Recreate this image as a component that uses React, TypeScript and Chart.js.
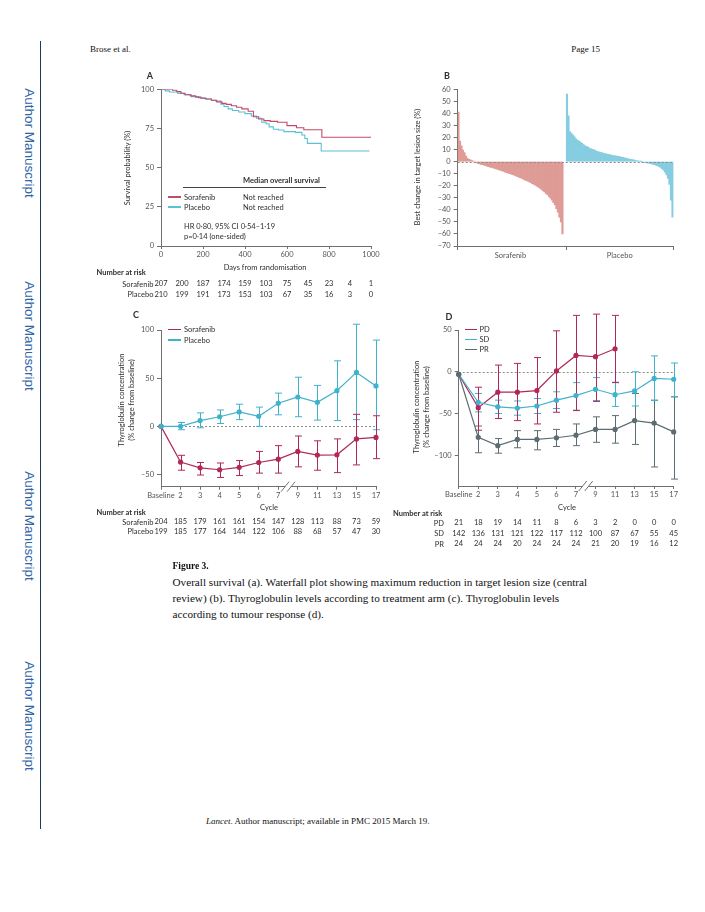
import React, { useEffect, useRef } from 'react';
import { Chart, registerables } from 'chart.js';
Chart.register(...registerables);

// ---------------- DATA ----------------
// Panel A: Kaplan-Meier overall survival
const kmSorafenibDays = [0, 55, 75, 95, 115, 140, 165, 190, 215, 240, 265, 290, 310, 335, 360, 385, 415, 440, 465, 490, 520, 555, 600, 645, 680, 766, 1005];
const kmSorafenibSurv = [100, 99.4, 98.5, 97.5, 96.5, 95.8, 95.0, 94.3, 93.8, 93.0, 92.0, 91.0, 90.4, 89.5, 88.5, 87.5, 86.0, 82.5, 81.0, 80.0, 79.5, 79.0, 76.8, 75.5, 74.2, 69.4, 69.4];
const kmPlaceboDays = [0, 20, 40, 80, 110, 145, 180, 210, 240, 260, 285, 300, 320, 340, 370, 400, 430, 455, 480, 500, 515, 535, 560, 585, 640, 671, 685, 697, 763, 993];
const kmPlaceboSurv = [100, 99, 98.3, 97.4, 96.5, 95.3, 94.5, 93.8, 93, 92.5, 90.5, 89, 87.5, 86.5, 85.5, 84.5, 83, 81.5, 79, 78, 76, 74.5, 74, 73, 72.5, 70.8, 68.6, 65.5, 60.6, 60.6];
const kmXTicks = [0, 200, 400, 600, 800, 1000];
const kmYTicks = [0, 25, 50, 75, 100];
const riskDaysA = [0, 100, 200, 300, 400, 500, 600, 700, 800, 900, 1000];
const riskSorafenibA = [207, 200, 187, 174, 159, 103, 75, 45, 23, 4, 1];
const riskPlaceboA = [210, 199, 191, 173, 153, 103, 67, 35, 16, 3, 0];

// Panel B: waterfall, best change in target lesion size (%)
const waterfallSorafenib = [41, 17, 13, 9.5, 7.5, 4.5, 2.8, 2, 1.4, 0.8, 0.3, -0.3, -1, -1.5, -1.9, -2.3, -2.6, -3, -3.3, -3.7,
  -4.1, -4.5, -4.8, -5.2, -5.6, -6, -6.4, -6.9, -7.3, -7.7, -8.2, -8.7, -9.2, -9.6, -10, -10.4, -10.8, -11.3, -11.8, -12.3,
  -12.8, -13.4, -14, -14.6, -15.2, -15.7, -16.3, -16.9, -17.5, -18.2, -18.9, -19.6, -20.3, -21.1, -22, -23, -24, -25.2, -26.3, -27.5,
  -28.8, -30.3, -32, -34, -36, -39, -42, -46, -50, -60];
const waterfallPlacebo = [56, 38, 25, 23.5, 22, 20.5, 19, 17.8, 17, 16.2, 15.2, 14.2, 13.2, 12.6, 12, 11.3, 10.7, 10.2, 9.7, 9.1,
  8.6, 8.1, 7.7, 7.4, 7, 6.7, 6.4, 6.1, 5.8, 5.6, 5.3, 5.1, 4.8, 4.6, 4.3, 4.1, 3.8, 3.5, 3.2, 2.9,
  2.6, 2.3, 2, 1.8, 1.5, 1.2, 0.9, 0.6, 0.3, 0.1, -0.2, -0.4, -0.7, -1, -1.3, -1.5, -1.9, -2.2, -2.5, -3,
  -3.5, -4, -4.8, -5.8, -7, -8.8, -11, -14, -19, -32, -46];
const waterfallYTicks = [-70, -60, -50, -40, -30, -20, -10, 0, 10, 20, 30, 40, 50, 60];
const waterfallGroups = ['Sorafenib', 'Placebo'];

// Panels C & D: thyroglobulin by cycle
const cycles = ['Baseline', '2', '3', '4', '5', '6', '7', '9', '11', '13', '15', '17'];
const tgSorafenib = [0, -37, -43, -45, -42.5, -37.5, -34, -26, -29.8, -29.5, -13, -11.5];
const tgSorafenibLo = [null, -45.5, -50.5, -53, -51, -48.5, -48.5, -42, -45.5, -48, -40, -33.5];
const tgSorafenibHi = [null, -30, -37.5, -38, -35.5, -26, -20, -10, -15, -13, 12.5, 11];
const tgPlacebo = [0, 0, 6, 10, 15, 10.5, 24, 30.5, 25, 37, 56, 42];
const tgPlaceboLo = [null, -3.5, -1.5, 3, 7, 0, 12, 10, 6.5, 6, 7, -3.5];
const tgPlaceboHi = [null, 4, 14, 17, 23, 20, 34.5, 51, 42.5, 68, 106, 89.5];
const cYTicks = [-50, 0, 50, 100];
const riskSorafenibC = [204, 185, 179, 161, 161, 154, 147, 128, 113, 88, 73, 59];
const riskPlaceboC = [199, 185, 177, 164, 144, 122, 106, 88, 68, 57, 47, 30];

const tgPD = [-3, -43, -24.5, -24.5, -22.5, 1, 19.5, 18, 27.5, null, null, null];
const tgPDLo = [null, -70, -56, -58.5, -62.5, -48.5, -46.5, -35.5, -13, null, null, null];
const tgPDHi = [null, -18.5, 8, 10, 17, 49, 67.5, 69, 67.5, null, null, null];
const tgSD = [-3, -36.5, -42, -43.5, -41, -34, -28.5, -21, -27.5, -23, -8, -9];
const tgSDLo = [null, -48, -50, -52, -50, -44, -46, -34.5, -41.5, -41, -34.5, -30];
const tgSDHi = [null, -26, -34, -35, -32, -24, -13, -7, -12.5, 0, 19, 10.5];
const tgPR = [-3, -78.5, -88.5, -81, -81, -79, -76, -69, -69, -58.5, -61.5, -72];
const tgPRLo = [null, -97, -97.5, -91, -93.5, -89.5, -88.5, -84.5, -85.5, -87, -114, -128.5];
const tgPRHi = [null, -65, -80, -70.5, -70.5, -69, -62.5, -54, -52.5, -26, -34, -30];
const dYTicks = [-100, -50, 0, 50];
const riskPD = [21, 18, 19, 14, 11, 8, 6, 3, 2, 0, 0, 0];
const riskSD = [142, 136, 131, 121, 122, 117, 112, 100, 87, 67, 55, 45];
const riskPR = [24, 24, 24, 20, 24, 24, 24, 21, 20, 19, 16, 12];

// ---------------- STYLE ----------------
const FONT = 'Lato, "Noto Sans", sans-serif';
const SERIF = '"Liberation Serif", "Times New Roman", serif';
const TEXT = '#2e2e2e';
const TICK = '#555';
const AXIS = '#707070';
const KM_RED = '#c24a6c';
const KM_CYAN = '#5cc0d8';
const RED = '#b0285a';
const CYAN = '#3fb2cd';
const GREY = '#5d6c71';
const WF_RED = '#df9b96';
const WF_CYAN = '#86cde2';

Chart.defaults.font.family = FONT;

const fmt = (v: number) => (v < 0 ? '\u2013' + Math.abs(v) : String(v));
const fixY = (w: number) => (s: any) => { s.width = w; s.paddingTop = 0; s.paddingBottom = 0; };
const fixX = (h: number) => (s: any) => { s.height = h; s.paddingLeft = 0; s.paddingRight = 0; };
const setTicks = (vals: number[]) => (s: any) => { s.ticks = vals.map((v) => ({ value: v })); };

function axis(tickLength: number, padding: number) {
  return {
    border: { display: true, color: AXIS, width: 1 },
    grid: { display: true, drawOnChartArea: false, drawTicks: true, tickLength, color: AXIS },
    ticks: { font: { family: FONT, size: 7.5 }, color: TICK, padding, autoSkip: false, maxRotation: 0 },
  };
}

type Err = { lo: (number | null)[]; hi: (number | null)[]; color: string };
type Extras = {
  zero?: { above: boolean; color: string };
  err?: Err[];
  risk?: { xs: number[]; rows: number[][]; ys: number[] };
  brk?: number;
};

function drawZero(chart: any, color: string) {
  const { ctx, chartArea } = chart;
  const y = Math.round(chart.scales.y.getPixelForValue(0)) + 0.5;
  ctx.save();
  ctx.strokeStyle = color;
  ctx.lineWidth = 1;
  ctx.setLineDash([2, 2]);
  ctx.beginPath();
  ctx.moveTo(chartArea.left, y);
  ctx.lineTo(chartArea.right, y);
  ctx.stroke();
  ctx.restore();
}

function drawErr(chart: any, bars: Err[]) {
  const { ctx } = chart;
  const xs = chart.scales.x;
  const ys = chart.scales.y;
  const cap = 3.5;
  bars.forEach((b) => {
    ctx.save();
    ctx.strokeStyle = b.color;
    ctx.lineWidth = 1;
    b.lo.forEach((lo, i) => {
      const hi = b.hi[i];
      if (lo == null || hi == null) return;
      const x = Math.round(xs.getPixelForValue(i)) + 0.5;
      const y1 = ys.getPixelForValue(lo);
      const y2 = ys.getPixelForValue(hi);
      ctx.beginPath();
      ctx.moveTo(x, y1);
      ctx.lineTo(x, y2);
      ctx.moveTo(x - cap, y1);
      ctx.lineTo(x + cap, y1);
      ctx.moveTo(x - cap, y2);
      ctx.lineTo(x + cap, y2);
      ctx.stroke();
    });
    ctx.restore();
  });
}

function drawRisk(chart: any, r: { xs: number[]; rows: number[][]; ys: number[] }) {
  const { ctx } = chart;
  const xs = chart.scales.x;
  ctx.save();
  ctx.font = `7.5px ${FONT}`;
  ctx.fillStyle = TEXT;
  ctx.textAlign = 'center';
  ctx.textBaseline = 'middle';
  r.rows.forEach((row, ri) => {
    row.forEach((v, i) => {
      ctx.fillText(String(v), xs.getPixelForValue(r.xs[i]), r.ys[ri]);
    });
  });
  ctx.restore();
}

function drawBreak(chart: any, at: number) {
  const { ctx, chartArea } = chart;
  const x = chart.scales.x.getPixelForValue(at);
  const y = chartArea.bottom;
  ctx.save();
  ctx.fillStyle = '#fff';
  ctx.beginPath();
  ctx.moveTo(x - 7, y + 5);
  ctx.lineTo(x + 1, y - 5);
  ctx.lineTo(x + 7, y - 5);
  ctx.lineTo(x - 1, y + 5);
  ctx.closePath();
  ctx.fill();
  ctx.strokeStyle = AXIS;
  ctx.lineWidth = 1;
  [-3, 3].forEach((o) => {
    ctx.beginPath();
    ctx.moveTo(x + o - 4, y + 5);
    ctx.lineTo(x + o + 4, y - 5);
    ctx.stroke();
  });
  ctx.restore();
}

function makeExtras(e: Extras) {
  return {
    id: 'extras',
    beforeDatasetsDraw(chart: any) {
      if (e.zero && !e.zero.above) drawZero(chart, e.zero.color);
      if (e.err) drawErr(chart, e.err);
    },
    afterDatasetsDraw(chart: any) {
      if (e.zero && e.zero.above) drawZero(chart, e.zero.color);
    },
    afterDraw(chart: any) {
      if (e.risk) drawRisk(chart, e.risk);
      if (e.brk != null) drawBreak(chart, e.brk);
    },
  };
}

const baseOptions = (pad: { top: number; right: number }) => ({
  responsive: false,
  animation: false,
  layout: { padding: { left: 0, top: pad.top, right: pad.right, bottom: 0 } },
  plugins: { legend: { display: false }, tooltip: { enabled: false } },
});

// ---------------- CHART CONFIGS ----------------
function configA() {
  const ax = axis(3, 1);
  const ay = axis(4, 3);
  return {
    type: 'line',
    data: {
      datasets: [
        // stepped: true -> horizontal at previous value, then vertical drop at the event day
        { label: 'Sorafenib', data: kmSorafenibDays.map((d, i) => ({ x: d, y: kmSorafenibSurv[i] })), borderColor: KM_RED, borderWidth: 1.1, stepped: true, pointRadius: 0, fill: false },
        { label: 'Placebo', data: kmPlaceboDays.map((d, i) => ({ x: d, y: kmPlaceboSurv[i] })), borderColor: KM_CYAN, borderWidth: 1.1, stepped: true, pointRadius: 0, fill: false },
      ],
    },
    options: {
      ...baseOptions({ top: 29.3, right: 14 }),
      scales: {
        x: { type: 'linear', min: 0, max: 1000, ...ax, ticks: { ...ax.ticks, callback: (v: number) => String(v) }, afterBuildTicks: setTicks(kmXTicks), afterFit: fixX(59) },
        y: { type: 'linear', min: 0, max: 100, ...ay, ticks: { ...ay.ticks, callback: (v: number) => String(v) }, afterBuildTicks: setTicks(kmYTicks), afterFit: fixY(76) },
      },
    },
    plugins: [makeExtras({ risk: { xs: riskDaysA, rows: [riskSorafenibA, riskPlaceboA], ys: [224, 234.7] } })],
  };
}

function configB() {
  const nS = waterfallSorafenib.length;
  const nP = waterfallPlacebo.length;
  const gap = 2;
  const mid = nS + gap;
  const end = mid + nP + 0.3;
  const c1 = nS / 2;
  const c2 = mid + nP / 2;
  const ax: any = axis(4, 1);
  const ay = axis(4, 3);
  return {
    type: 'bar',
    data: {
      datasets: [
        { label: waterfallGroups[0], data: waterfallSorafenib.map((v, i) => ({ x: i + 0.5, y: v })), backgroundColor: WF_RED, borderWidth: 0, grouped: false, barPercentage: 1, categoryPercentage: 1 },
        { label: waterfallGroups[1], data: waterfallPlacebo.map((v, i) => ({ x: mid + i + 0.5, y: v })), backgroundColor: WF_CYAN, borderWidth: 0, grouped: false, barPercentage: 1, categoryPercentage: 1 },
      ],
    },
    options: {
      ...baseOptions({ top: 29.3, right: 21.3 }),
      scales: {
        x: {
          type: 'linear', min: 0, max: end, offset: false, ...ax,
          grid: { ...ax.grid, offset: false, tickColor: (ctx: any) => (ctx.tick && (ctx.tick.value === c1 || ctx.tick.value === c2) ? 'rgba(0,0,0,0)' : AXIS) },
          ticks: { ...ax.ticks, callback: (v: number) => (v === c1 ? waterfallGroups[0] : v === c2 ? waterfallGroups[1] : '') },
          afterBuildTicks: setTicks([0, c1, mid, c2, end]), afterFit: fixX(14),
        },
        y: { type: 'linear', min: -70, max: 60, ...ay, ticks: { ...ay.ticks, callback: (v: number) => fmt(v) }, afterBuildTicks: setTicks(waterfallYTicks), afterFit: fixY(62.7) },
      },
    },
    plugins: [makeExtras({ zero: { above: true, color: '#8a8a8a' } })],
  };
}

function lineDs(label: string, data: (number | null)[], color: string) {
  return { label, data, borderColor: color, backgroundColor: color, pointBackgroundColor: color, pointBorderColor: color, borderWidth: 1.2, pointRadius: 2, fill: false, clip: false, spanGaps: false };
}

function configC() {
  const ax = axis(3, 1);
  const ay = axis(4, 3);
  return {
    type: 'line',
    data: { labels: cycles, datasets: [lineDs('Placebo', tgPlacebo, CYAN), lineDs('Sorafenib', tgSorafenib, RED)] },
    options: {
      ...baseOptions({ top: 30, right: 14 }),
      scales: {
        x: { type: 'category', offset: false, ...ax, afterFit: fixX(58.3) },
        y: { type: 'linear', min: -62.6, max: 100, ...ay, ticks: { ...ay.ticks, callback: (v: number) => fmt(v) }, afterBuildTicks: setTicks(cYTicks), afterFit: fixY(76) },
      },
    },
    plugins: [makeExtras({
      zero: { above: false, color: '#8a8a8a' },
      err: [{ lo: tgPlaceboLo, hi: tgPlaceboHi, color: CYAN }, { lo: tgSorafenibLo, hi: tgSorafenibHi, color: RED }],
      risk: { xs: cycles.map((_, i) => i), rows: [riskSorafenibC, riskPlaceboC], ys: [222, 231.7] },
      brk: 6.5,
    })],
  };
}

function configD() {
  const ax = axis(3, 1);
  const ay = axis(4, 3);
  return {
    type: 'line',
    data: { labels: cycles, datasets: [lineDs('PR', tgPR, GREY), lineDs('SD', tgSD, CYAN), lineDs('PD', tgPD, RED)] },
    options: {
      ...baseOptions({ top: 30, right: 16.3 }),
      scales: {
        x: { type: 'category', offset: false, ...ax, afterFit: fixX(64) },
        y: { type: 'linear', min: -136.8, max: 50, ...ay, ticks: { ...ay.ticks, callback: (v: number) => fmt(v) }, afterBuildTicks: setTicks(dYTicks), afterFit: fixY(68.7) },
      },
    },
    plugins: [makeExtras({
      zero: { above: false, color: '#8a8a8a' },
      err: [{ lo: tgPRLo, hi: tgPRHi, color: GREY }, { lo: tgSDLo, hi: tgSDHi, color: CYAN }, { lo: tgPDLo, hi: tgPDHi, color: RED }],
      risk: { xs: cycles.map((_, i) => i), rows: [riskPD, riskSD, riskPR], ys: [223, 233.5, 244] },
      brk: 6.5,
    })],
  };
}

// ---------------- COMPONENTS ----------------
function ChartCanvas({ left, top, width, height, make }: { left: number; top: number; width: number; height: number; make: () => any }) {
  const ref = useRef<HTMLCanvasElement>(null);
  useEffect(() => {
    const chart = new Chart(ref.current as HTMLCanvasElement, make());
    return () => chart.destroy();
  }, []);
  return <canvas ref={ref} width={width} height={height} style={{ position: 'absolute', left, top, width, height }} />;
}

type TP = { x: number; y: number; a?: 'l' | 'c' | 'r'; s?: number; w?: number; f?: string; c?: string; children: React.ReactNode };
function T({ x, y, a = 'l', s = 7.5, w = 400, f = FONT, c = TEXT, children }: TP) {
  const lh = Math.ceil(s * 1.4);
  const tx = a === 'c' ? 'translateX(-50%)' : a === 'r' ? 'translateX(-100%)' : undefined;
  return (
    <div style={{ position: 'absolute', left: x, top: y - lh / 2, height: lh, lineHeight: lh + 'px', fontSize: s, fontWeight: w, fontFamily: f, color: c, whiteSpace: 'nowrap', transform: tx }}>
      {children}
    </div>
  );
}

function VT({ x, y, s = 7.5, rot = -90, c = TEXT, f = FONT, lines }: { x: number; y: number; s?: number; rot?: number; c?: string; f?: string; lines: string[] }) {
  return (
    <div style={{ position: 'absolute', left: x, top: y, transform: `translate(-50%, -50%) rotate(${rot}deg)`, fontSize: s, fontFamily: f, color: c, whiteSpace: 'nowrap', textAlign: 'center', lineHeight: (s * 1.35) + 'px' }}>
      {lines.map((l, i) => <div key={i}>{l}</div>)}
    </div>
  );
}

function Sw({ x1, x2, y, c }: { x1: number; x2: number; y: number; c: string }) {
  return <div style={{ position: 'absolute', left: x1, top: y - 0.6, width: x2 - x1, height: 1.2, background: c }} />;
}

export default function App() {
  const authorYs = [143, 336, 526, 716];
  return (
    <div style={{ position: 'absolute', left: 0, top: 0, width: 705, height: 912, background: '#fff', overflow: 'hidden' }}>
      {/* page furniture */}
      <div style={{ position: 'absolute', left: 40, top: 41, width: 1.3, height: 788, background: '#1d3c5a' }} />
      {authorYs.map((y, i) => (
        <VT key={i} x={29} y={y} s={13.5} rot={90} c="#2f65a6" f='"Liberation Sans", Arial, sans-serif' lines={['Author Manuscript']} />
      ))}
      <T x={90} y={49} s={9} f={SERIF} c="#111">Brose et al.</T>
      <T x={600} y={49} s={9} f={SERIF} c="#111" a="r">Page 15</T>

      {/* Panel A */}
      <ChartCanvas left={85} top={60} width={300} height={245} make={configA} />
      <T x={150} y={75} a="c" s={9} w={700}>A</T>
      <VT x={128} y={168} lines={['Survival probability (%)']} />
      <T x={243} y={180} w={700}>Median overall survival</T>
      <div style={{ position: 'absolute', left: 183, top: 186.5, width: 143, height: 1, background: '#444' }} />
      <Sw x1={168} x2={181} y={197} c={KM_RED} />
      <T x={184} y={197}>Sorafenib</T>
      <T x={243} y={197}>Not reached</T>
      <Sw x1={168} x2={181} y={207} c={KM_CYAN} />
      <T x={184} y={207}>Placebo</T>
      <T x={243} y={207}>Not reached</T>
      <T x={184} y={226}>HR 0·80, 95% CI 0·54–1·19</T>
      <T x={184} y={236}>p=0·14 (one-sided)</T>
      <T x={265} y={267.5} a="c">Days from randomisation</T>
      <T x={96.5} y={272.5} w={700}>Number at risk</T>
      <T x={153.5} y={284} a="r">Sorafenib</T>
      <T x={153.5} y={294.7} a="r">Placebo</T>

      {/* Panel B */}
      <ChartCanvas left={395} top={60} width={300} height={200} make={configB} />
      <T x={447} y={75} a="c" s={9} w={700}>B</T>
      <VT x={418} y={167} lines={['Best change in target lesion size (%)']} />

      {/* Panel C */}
      <ChartCanvas left={85} top={300} width={305} height={245} make={configC} />
      <T x={136} y={314} a="c" s={9} w={700}>C</T>
      <VT x={127} y={400} lines={['Thyroglobulin concentration', '(% change from baseline)']} />
      <Sw x1={168} x2={181} y={329.5} c={RED} />
      <T x={184} y={329.5}>Sorafenib</T>
      <Sw x1={168} x2={181} y={340} c={CYAN} />
      <T x={184} y={340}>Placebo</T>
      <T x={269} y={507} a="c">Cycle</T>
      <T x={96.5} y={512.5} w={700}>Number at risk</T>
      <T x={153.5} y={522} a="r">Sorafenib</T>
      <T x={153.5} y={531.7} a="r">Placebo</T>

      {/* Panel D */}
      <ChartCanvas left={390} top={300} width={300} height={250} make={configD} />
      <T x={449} y={316} a="c" s={9} w={700}>D</T>
      <VT x={422} y={407} lines={['Thyroglobulin concentration', '(% change from baseline)']} />
      <Sw x1={465} x2={477} y={329.5} c={RED} />
      <T x={479.5} y={329.5}>PD</T>
      <Sw x1={465} x2={477} y={339.5} c={CYAN} />
      <T x={479.5} y={339.5}>SD</T>
      <Sw x1={465} x2={477} y={349.5} c={GREY} />
      <T x={479.5} y={349.5}>PR</T>
      <T x={567} y={507} a="c">Cycle</T>
      <T x={393} y={513} w={700}>Number at risk</T>
      <T x={444} y={523} a="r">PD</T>
      <T x={444} y={533.5} a="r">SD</T>
      <T x={444} y={544} a="r">PR</T>

      {/* Caption */}
      <T x={172.5} y={566} s={9.5} w={700} f={SERIF} c="#111">Figure 3.</T>
      <T x={172.5} y={581.5} s={11.2} f={SERIF} c="#111">Overall survival (a). Waterfall plot showing maximum reduction in target lesion size (central</T>
      <T x={172.5} y={597.5} s={11.2} f={SERIF} c="#111">review) (b). Thyroglobulin levels according to treatment arm (c). Thyroglobulin levels</T>
      <T x={172.5} y={613.5} s={11.2} f={SERIF} c="#111">according to tumour response (d).</T>

      {/* Footer */}
      <T x={206} y={821} s={9} f={SERIF} c="#111"><i>Lancet</i>. Author manuscript; available in PMC 2015 March 19.</T>
    </div>
  );
}
